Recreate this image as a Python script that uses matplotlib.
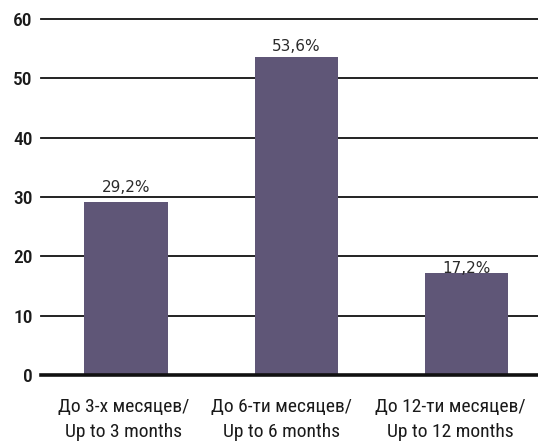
import matplotlib.pyplot as plt
from matplotlib.transforms import ScaledTranslation

categories = ["До 3-х месяцев/\nUp to 3 months",
              "До 6-ти месяцев/\nUp to 6 months",
              "До 12-ти месяцев/\nUp to 12 months"]
values = [29.2, 53.6, 17.2]
value_labels = ["29,2%", "53,6%", "17,2%"]
yticks = [0, 10, 20, 30, 40, 50, 60]

narrow = ["Roboto Condensed", "DejaVu Sans"]
bar_color = "#5f5677"

fig = plt.figure(figsize=(5.38, 4.42), dpi=100)
ax = fig.add_axes([0.076, 0.152, 0.924, 0.805])

x = list(range(len(values)))
bars = ax.bar(x, values, width=0.49, color=bar_color, zorder=3)

# label offsets above each bar, in points
offsets = [5, 2, -2]
for rect, lab, off in zip(bars, value_labels, offsets):
    ax.annotate(lab, (rect.get_x() + rect.get_width() / 2, rect.get_height()),
                xytext=(0, off), textcoords="offset points",
                ha="center", va="bottom", fontsize=11,
                family="DejaVu Sans", color="#2a2a2a", zorder=4)

ax.set_xlim(-0.5, 2.42)
ax.set_ylim(0, 60)
ax.set_yticks(yticks)
ax.set_yticklabels([str(t) for t in yticks], family=narrow, fontsize=14,
                   fontweight="medium", color="#1a1a1a")
ax.set_xticks([])

# category labels sit below the axis, a little left of their bars (inches)
shifts = [-0.02, -0.15, -0.16]
for xi, cat, dx in zip(x, categories, shifts):
    tr = ax.get_xaxis_transform() + ScaledTranslation(dx, -0.236, fig.dpi_scale_trans)
    ax.text(xi, 0, cat, transform=tr, ha="center", va="top", family=narrow,
            fontsize=14, linespacing=1.45, color="#1a1a1a", multialignment="center")

for t in yticks[1:]:
    ax.axhline(t, color="#111111", linewidth=1.3, zorder=1, clip_on=False)
ax.axhline(0, color="#111111", linewidth=2.6, zorder=4, clip_on=False)

for s in ax.spines.values():
    s.set_visible(False)
ax.tick_params(length=0)
ax.tick_params(axis="y", pad=6)

fig.savefig("out.png", dpi=100)
